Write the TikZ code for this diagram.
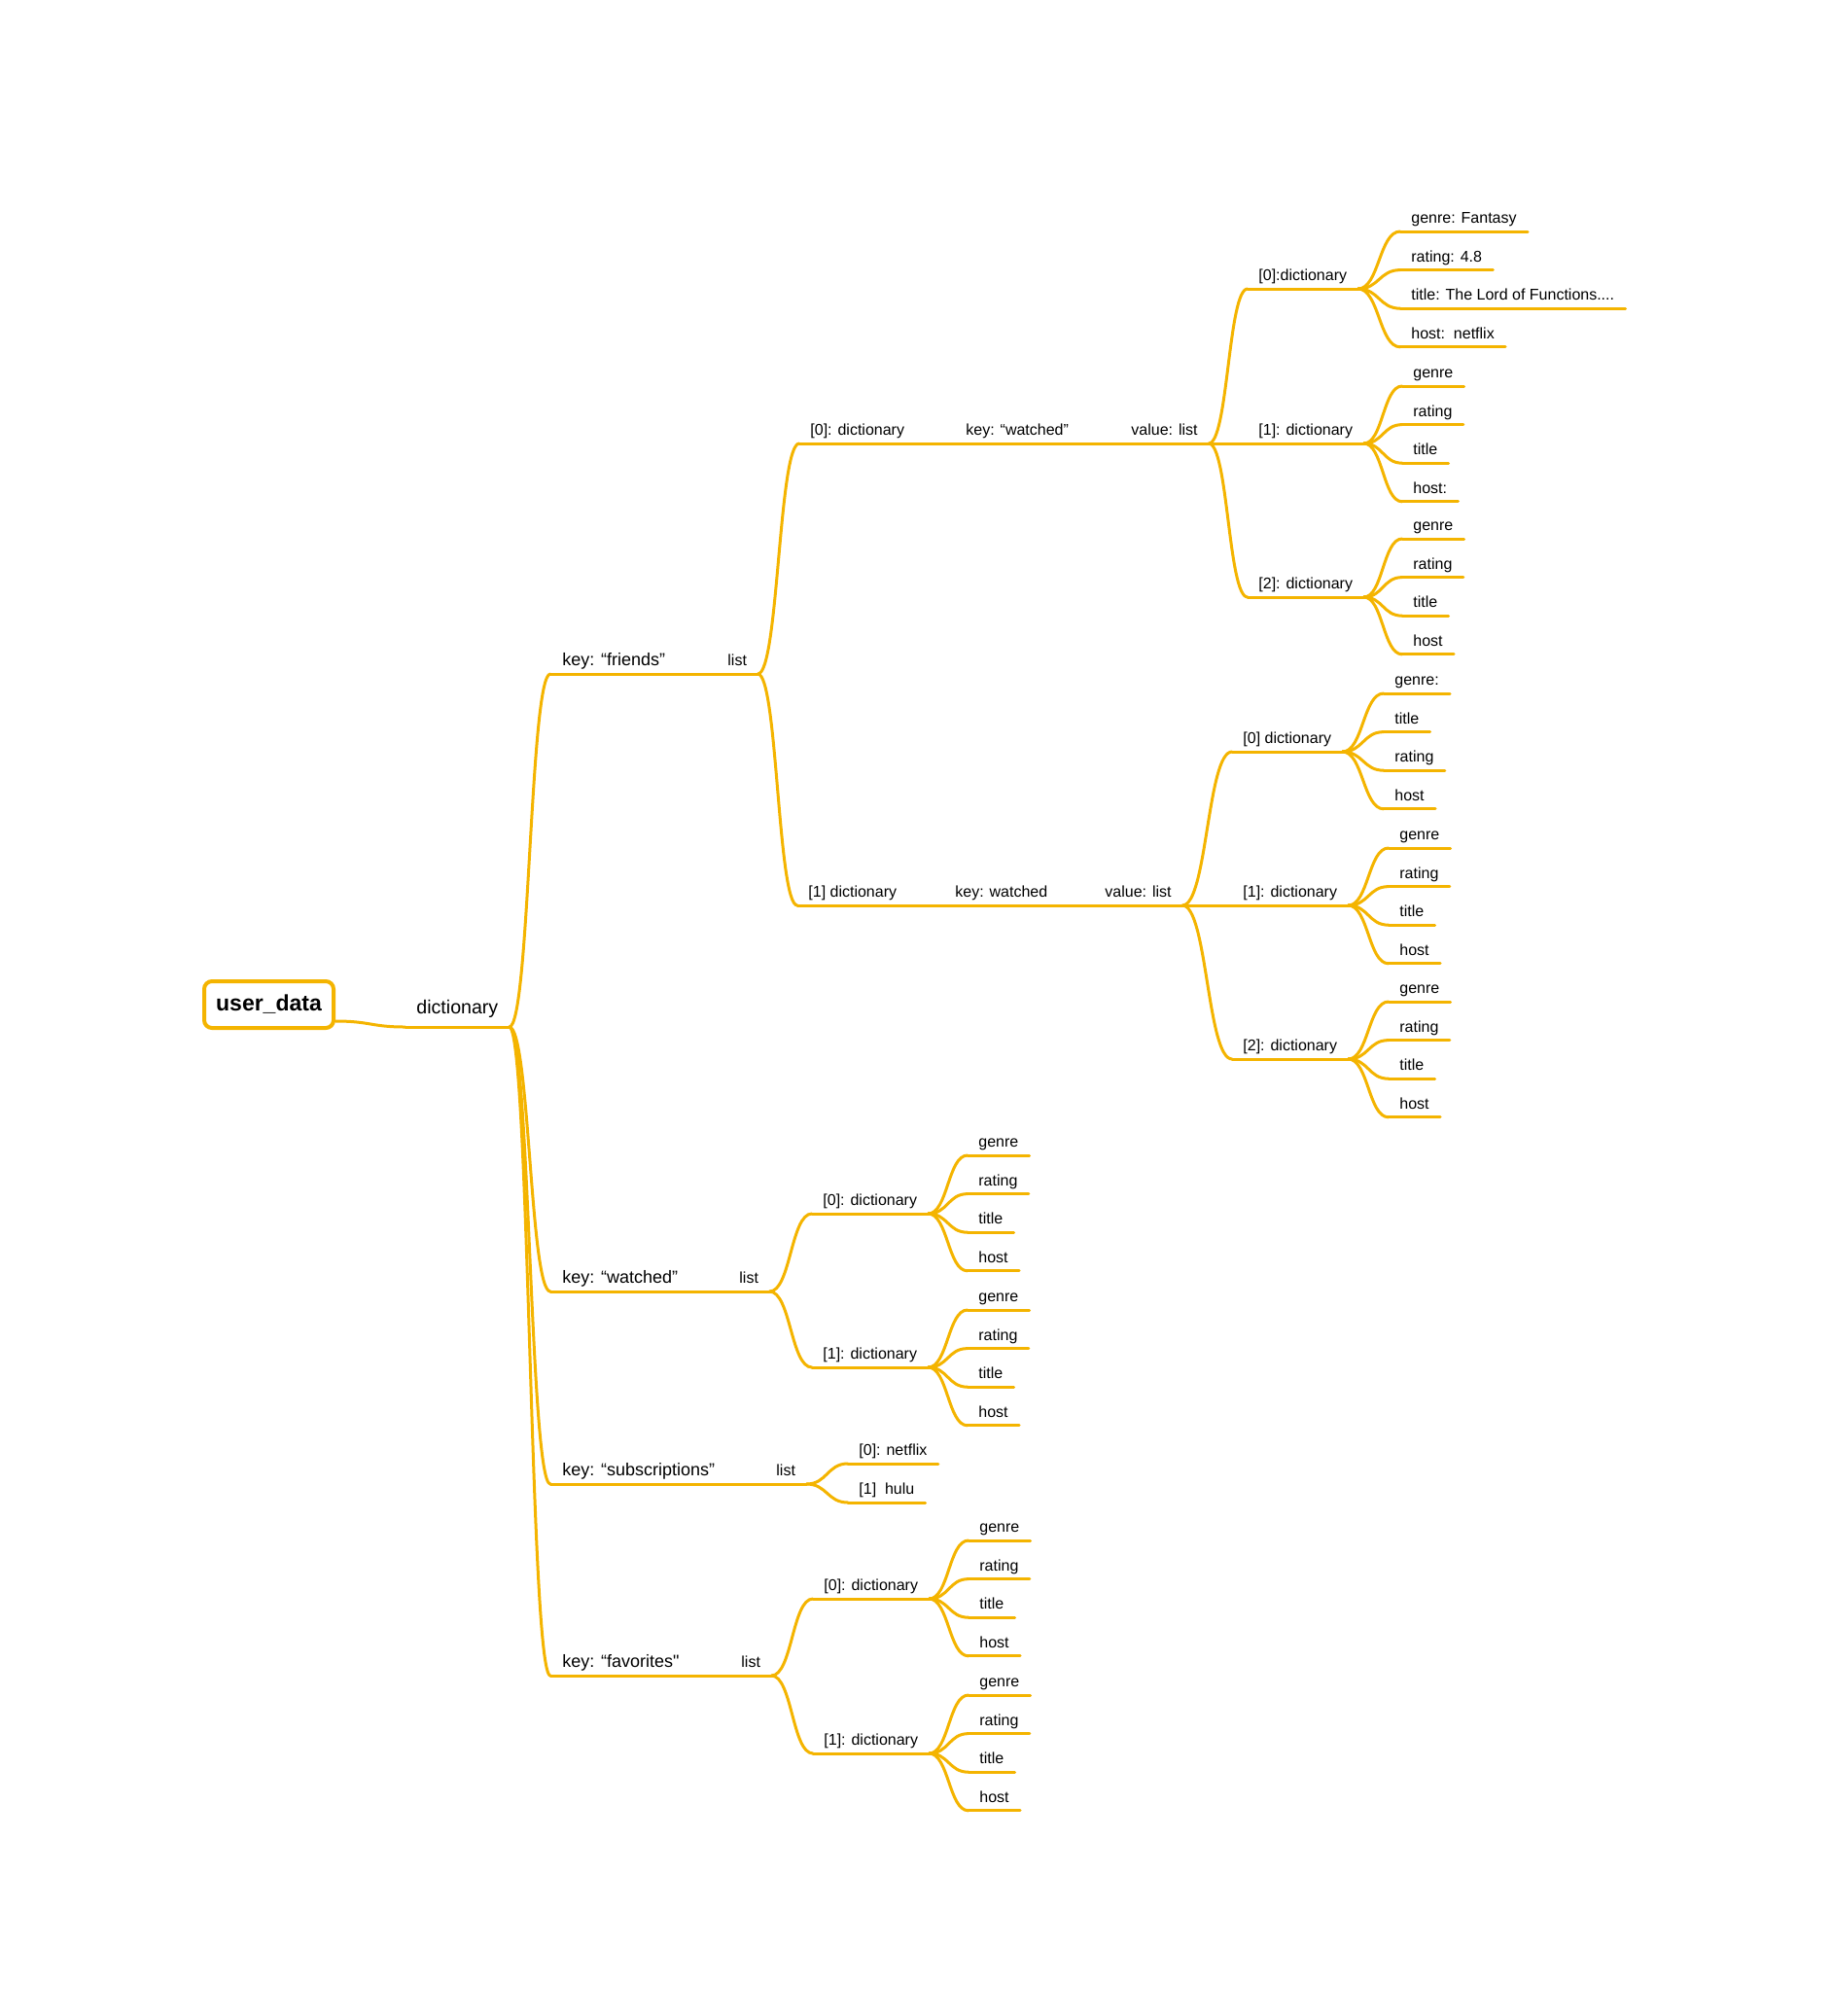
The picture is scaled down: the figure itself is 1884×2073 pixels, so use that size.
\documentclass[tikz,border=0pt]{standalone}
\usepackage{fontspec}
\setmainfont{Liberation Sans}
\newfontfamily\plainquote{Liberation Sans}
\usetikzlibrary{calc}
\definecolor{mmyellow}{RGB}{244,180,0}

\newcommand{\mmcurve}[2]{\draw[branch] let \p1=#1, \p2=#2 in
  (\p1) .. controls ({(\x1+\x2)/2},\y1) and ({(\x1+\x2)/2},\y2) .. (\p2);}
\newcommand{\mmlink}[2]{\mmcurve{(#1.south east)}{(#2.south west)}}
\newcommand{\mmleaves}[4]{%
  \foreach \lbl [count=\i] in {#4} {
    \node[topic] (#1l\i) at (#2,{#3+(\i-1)*39.6}) {\lbl};
    \mmlink{#1}{#1l\i}
  }}

\tikzset{
  branch/.style={draw=mmyellow, line width=1.5pt, line cap=round},
  topic/.style={anchor=south west, inner xsep=5.5pt, inner ysep=4pt, text depth=0pt,
    font=\fontsize{8}{9.6}\selectfont,
    append after command={(\tikzlastnode.south west) edge[branch] (\tikzlastnode.south east)}},
  keytopic/.style={topic, inner xsep=6pt, font=\fontsize{9}{10.8}\selectfont},
  roottopic/.style={topic, inner ysep=6.5pt, font=\fontsize{9.8}{11.8}\selectfont},
  rootbox/.style={draw=mmyellow, line width=2pt, rounded corners=4pt, inner sep=0pt,
    minimum width=66.5pt, minimum height=24pt, font=\fontsize{11.5}{13.8}\selectfont\bfseries},
}

\begin{document}
\begin{tikzpicture}[x=0.5pt, y=-0.5pt]
  \useasboundingbox (0,0) rectangle (1884,2073);

  % Root
  \node[rootbox] (userdata) at (276.5,1033) {user\_data};
  \node[roottopic] (dict) at (417,1056) {dictionary};
  \mmcurve{($(userdata.south east)+(0,-9)$)}{(dict.south west)}

  % Keys
  \node[keytopic] (kfriends) at (566,693) {key: “friends”};
  \node[keytopic] (kwatched) at (566,1328) {key: “watched”};
  \node[keytopic] (ksubs) at (566,1526) {key: “subscriptions”};
  \node[keytopic] (kfav) at (566,1723) {key: “favorites{\plainquote"}};
  \foreach \k in {kfriends,kwatched,ksubs,kfav} {\mmlink{dict}{\k}}

  % Values
  \node[topic] (lfriends) at (737,693) {list};
  \node[topic] (lwatched) at (749,1328) {list};
  \node[topic] (lsubs) at (787,1526) {list};
  \node[topic] (lfav) at (751,1723) {list};
  \mmlink{kfriends}{lfriends}
  \mmlink{kwatched}{lwatched}
  \mmlink{ksubs}{lsubs}
  \mmlink{kfav}{lfav}

  % Friends
  \node[topic] (f0dict) at (822,456) {[0]: dictionary};
  \node[topic] (f0key) at (982,456) {key: “watched”};
  \node[topic] (f0val) at (1152,456) {value: list};
  \node[topic] (f1dict) at (820,931) {[1] dictionary};
  \node[topic] (f1key) at (971,931) {key: watched};
  \node[topic] (f1val) at (1125,931) {value: list};
  \mmlink{lfriends}{f0dict}
  \mmlink{f0dict}{f0key}
  \mmlink{f0key}{f0val}
  \mmlink{lfriends}{f1dict}
  \mmlink{f1dict}{f1key}
  \mmlink{f1key}{f1val}

  % Watched lists of friends
  \node[topic] (f0d0) at (1283,297) {[0]:dictionary};
  \node[topic] (f0d1) at (1283,456) {[1]: dictionary};
  \node[topic] (f0d2) at (1283,614) {[2]: dictionary};
  \node[topic] (f1d0) at (1267,773) {[0] dictionary};
  \node[topic] (f1d1) at (1267,931) {[1]: dictionary};
  \node[topic] (f1d2) at (1267,1089) {[2]: dictionary};
  \foreach \d in {f0d0,f0d1,f0d2} {\mmlink{f0val}{\d}}
  \foreach \d in {f1d0,f1d1,f1d2} {\mmlink{f1val}{\d}}

  \mmleaves{f0d0}{1440}{238}{genre: Fantasy, rating: 4.8, title: The Lord of Functions{.}{.}{.}{.}, host:\ \ netflix}
  \mmleaves{f0d1}{1442}{397}{genre, rating, title, host:}
  \mmleaves{f0d2}{1442}{554}{genre, rating, title, host}
  \mmleaves{f1d0}{1423}{713}{genre:, title, rating, host}
  \mmleaves{f1d1}{1428}{872}{genre, rating, title, host}
  \mmleaves{f1d2}{1428}{1030}{genre, rating, title, host}

  % Watched
  \node[topic] (w0) at (835,1248) {[0]: dictionary};
  \node[topic] (w1) at (835,1406) {[1]: dictionary};
  \mmlink{lwatched}{w0}
  \mmlink{lwatched}{w1}
  \mmleaves{w0}{995}{1188}{genre, rating, title, host}
  \mmleaves{w1}{995}{1347}{genre, rating, title, host}

  % Subscriptions
  \node[topic] (s0) at (872,1505) {[0]: netflix};
  \node[topic] (s1) at (872,1545) {[1]\ \ hulu};
  \mmlink{lsubs}{s0}
  \mmlink{lsubs}{s1}

  % Favorites
  \node[topic] (v0) at (836,1644) {[0]: dictionary};
  \node[topic] (v1) at (836,1803) {[1]: dictionary};
  \mmlink{lfav}{v0}
  \mmlink{lfav}{v1}
  \mmleaves{v0}{996}{1584}{genre, rating, title, host}
  \mmleaves{v1}{996}{1743}{genre, rating, title, host}
\end{tikzpicture}
\end{document}
